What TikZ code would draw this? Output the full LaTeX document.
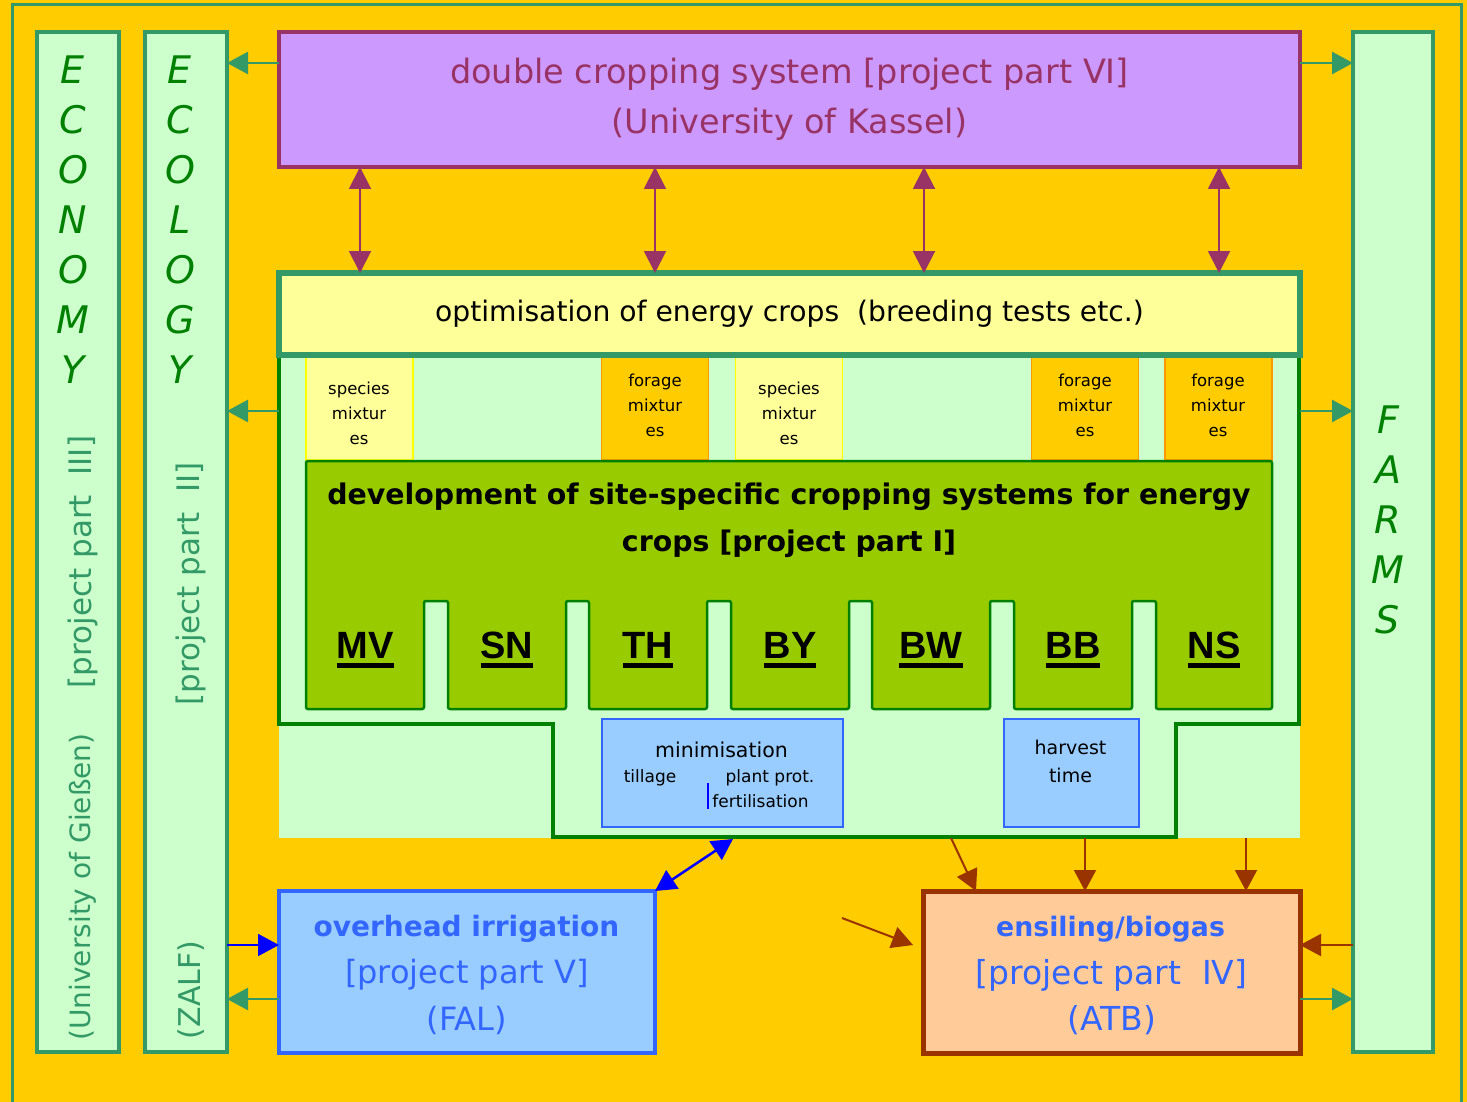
\documentclass[tikz,border=0pt]{standalone}
\usepackage{fontspec}
\setmainfont{DejaVu Sans}
\newfontfamily\arialfont{Liberation Sans}
\usetikzlibrary{arrows.meta}
\definecolor{bgor}{HTML}{FFCC00}
\definecolor{sgreen}{HTML}{339966}
\definecolor{lgreen}{HTML}{CCFFCC}
\definecolor{dgreen}{HTML}{008000}
\definecolor{purb}{HTML}{993366}
\definecolor{lpurple}{HTML}{CC99FF}
\definecolor{yel}{HTML}{FFFF99}
\definecolor{yelb}{HTML}{FFFF00}
\definecolor{orb}{HTML}{FF9900}
\definecolor{devg}{HTML}{99CC00}
\definecolor{lblue}{HTML}{99CCFF}
\definecolor{bblue}{HTML}{3366FF}
\definecolor{pblue}{HTML}{0000FF}
\definecolor{peach}{HTML}{FFCC99}
\definecolor{cbrown}{HTML}{993300}
\newcommand\fsz[2]{\fontsize{#1}{#2}\selectfont}
\begin{document}
\begin{tikzpicture}[x=1pt,y=-1pt,
  every node/.style={inner sep=0pt, outer sep=0pt},
  col/.style={draw=sgreen, fill=lgreen, line width=4pt, minimum width=82pt, minimum height=1020pt},
  letters/.style={text=dgreen, font=\fsz{38}{50}\itshape, align=center},
  vtxt/.style={text=sgreen, rotate=90},
  garrow/.style={draw=sgreen, line width=2.5pt, -{Triangle[length=21pt,width=22pt]}},
  parrow/.style={draw=purb, line width=2pt, {Triangle[length=22pt,width=22pt]}-{Triangle[length=22pt,width=22pt]}},
  barrow/.style={draw=pblue, line width=2pt, -{Triangle[length=21pt,width=22pt]}},
  bdarrow/.style={draw=pblue, line width=2.5pt, {Triangle[length=21pt,width=22pt]}-{Triangle[length=21pt,width=22pt]}},
  brarrow/.style={draw=cbrown, line width=2pt, -{Triangle[length=21pt,width=22pt]}},
  smallbox/.style={minimum width=107pt, minimum height=103pt, line width=1.5pt},
  sbyel/.style={smallbox, fill=yel, draw=yelb},
  sbor/.style={smallbox, fill=bgor, draw=orb},
  sbtxt/.style={font=\fsz{16.5}{25}, align=center},
  bluebox/.style={draw=bblue, fill=lblue},
  mvlab/.style={font=\arialfont\bfseries\fsz{38}{40}, anchor=base},
  ul/.style={line width=5pt},
  btxt/.style={text=bblue}
]
\useasboundingbox (0,0) rectangle (1467,1102);
\fill[bgor] (0,0) rectangle (1467,1102);
\draw[sgreen, line width=3pt] (12,1102) -- (12,5) -- (1461,5) -- (1461,1102);

% side columns
\node[col] (econ) at (78,542) {};
\node[col] (ecol) at (186,542) {};
\node[col, minimum width=80pt] (farms) at (1393,542) {};
\node[letters] (econL) at (73,220) {E\\C\\O\\N\\O\\M\\Y};
\node[letters] (ecolL) at (180,220) {E\\C\\O\\L\\O\\G\\Y};
\node[letters] (farmsL) at (1388,520) {F\\A\\R\\M\\S};
\node[vtxt, font=\fsz{28}{30}] (econA) at (83,887) {(University of Gießen)};
\node[vtxt, font=\fsz{31}{33}] (econB) at (83,562) {[project part\ \ III]};
\node[vtxt, font=\fsz{31}{33}] (ecolA) at (191,584) {[project part\ \ II]};
\node[vtxt, font=\fsz{30}{32}] (ecolB) at (191,990) {(ZALF)};

% top box
\node[draw=purb, fill=lpurple, line width=4pt, minimum width=1021pt, minimum height=135pt,
      text=purb, font=\fsz{33.5}{50}, align=center] (dcs) at (789.5,99.5)
      {double cropping system [project part VI]\\(University of Kassel)};

% main region
\fill[lgreen] (279,355) rectangle (1300,838);
\draw[dgreen, line width=4pt] (279,355) -- (279,724) -- (553,724) -- (553,837) -- (1176,837)
   -- (1176,724) -- (1299,724) -- (1299,355);
\coordinate (mainW) at (279,411);
\coordinate (mainE) at (1300,411);
\coordinate (mainS) at (733,839);
\coordinate (bot1) at (951,838);
\coordinate (bot2) at (1085,838);
\coordinate (bot3) at (1246,838);

% small boxes
\node[sbyel] (sp1) at (359.5,408.5) {};
\node[sbor] (fo1) at (655,408.5) {};
\node[sbyel] (sp2) at (789,408.5) {};
\node[sbor] (fo2) at (1085,408.5) {};
\node[sbor] (fo3) at (1218.5,408.5) {};
\node[sbtxt] (sp1t) at (359,413) {species\\mixtur\\es};
\node[sbtxt] (fo1t) at (655,405) {forage\\mixtur\\es};
\node[sbtxt] (sp2t) at (789,413) {species\\mixtur\\es};
\node[sbtxt] (fo2t) at (1085,405) {forage\\mixtur\\es};
\node[sbtxt] (fo3t) at (1218,405) {forage\\mixtur\\es};

% optimisation box
\node[draw=sgreen, fill=yel, line width=6pt, minimum width=1021pt, minimum height=82pt,
      font=\fsz{28.2}{34}] (opt) at (789.5,314) {optimisation of energy crops\ \ (breeding tests etc.)};

% development box
\draw[fill=devg, draw=dgreen, line width=2.5pt, rounded corners=2pt]
  (306,461) -- (1272,461) -- (1272,709) -- (1156,709) -- (1156,601) -- (1132,601) -- (1132,709)
  -- (1014,709) -- (1014,601) -- (990,601) -- (990,709) -- (872,709) -- (872,601) -- (849,601)
  -- (849,709) -- (731,709) -- (731,601) -- (707,601) -- (707,709) -- (589,709) -- (589,601)
  -- (566,601) -- (566,709) -- (448,709) -- (448,601) -- (424,601) -- (424,709) -- (306,709) -- cycle;
\node[font=\fsz{28.4}{47}\bfseries, align=center] (devt) at (789,520.5)
  {development of site-specific cropping systems for energy\\crops [project part I]};
\foreach \nm/\lab/\xx in {mv/MV/365, sn/SN/507, th/TH/648, by/BY/790, bw/BW/931, bb/BB/1073, ns/NS/1214}{
  \node[mvlab] (\nm) at (\xx,658) {\lab};
  \draw[ul] ([yshift=-7.5pt]\nm.base west) -- ([yshift=-7.5pt]\nm.base east);
}

% minimisation / harvest
\node[bluebox, line width=2pt, minimum width=241pt, minimum height=108pt] (mini) at (722.5,773) {};
\node[font=\fsz{20.5}{24}] (miniT) at (721.5,750) {minimisation};
\node[font=\fsz{17}{20}] (till) at (650,778) {tillage};
\node[font=\fsz{17}{20}] (plant) at (770,778) {plant prot.};
\node[font=\fsz{17}{20}] (fert) at (760.5,801) {fertilisation};
\draw[pblue, line width=2pt] (708,783) -- (708,809);
\node[bluebox, line width=2pt, minimum width=135pt, minimum height=108pt] (harv) at (1071.5,773) {};
\node[font=\fsz{19}{28}, align=center] (harvT) at (1070.5,761) {harvest\\time};

% bottom boxes
\node[bluebox, line width=4pt, minimum width=376pt, minimum height=162pt] (irr) at (467,972) {};
\node[btxt, font=\fsz{28}{30}\bfseries] (irr1) at (466.5,929) {overhead irrigation};
\node[btxt, font=\fsz{32}{34}] (irr2) at (467,975) {[project part V]};
\node[btxt, font=\fsz{32}{34}] (irr3) at (467,1020) {(FAL)};
\node[draw=cbrown, fill=peach, line width=5pt, minimum width=377pt, minimum height=162pt] (ens) at (1111.5,972) {};
\node[btxt, font=\fsz{26.8}{30}\bfseries] (ens1) at (1110.5,929) {ensiling/biogas};
\node[btxt, font=\fsz{33}{34}] (ens2) at (1111.5,975) {[project part\ \ IV]};
\node[btxt, font=\fsz{33}{34}] (ens3) at (1112,1020) {(ATB)};
\coordinate (ensIn) at (913,945);
\coordinate (ensFrom) at (842,918);

% arrows
\draw[garrow] (dcs.west |- 0,63) -- (ecol.east |- 0,63);
\draw[garrow] (dcs.east |- 0,63) -- (farms.west |- 0,63);
\foreach \xx in {360,655,924,1219}{
  \draw[parrow] (dcs.south -| \xx,0) -- (opt.north -| \xx,0);
}
\draw[garrow] (mainW) -- (ecol.east |- mainW);
\draw[garrow] (mainE) -- (farms.west |- mainE);
\draw[barrow] (ecol.east |- 0,945) -- (irr.west |- 0,945);
\draw[garrow] (irr.west |- 0,999) -- (ecol.east |- 0,999);
\draw[bdarrow] (irr.north east) -- (mainS);
\draw[brarrow] (bot1) -- (ens.north -| 976,0);
\draw[brarrow] (bot2) -- (ens.north -| bot2);
\draw[brarrow] (bot3) -- (ens.north -| bot3);
\draw[brarrow] (ensFrom) -- (ensIn);
\draw[brarrow] (farms.west |- 0,945) -- (ens.east |- 0,945);
\draw[garrow] (ens.east |- 0,999) -- (farms.west |- 0,999);
\end{tikzpicture}
\end{document}
